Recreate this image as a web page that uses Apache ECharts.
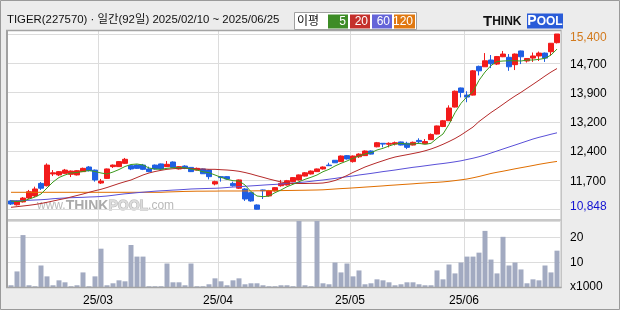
<!DOCTYPE html>
<html><head><meta charset="utf-8">
<script src="https://cdn.jsdelivr.net/npm/echarts@6/dist/echarts.min.js"></script>
<style>html,body{margin:0;padding:0;background:#ececec;}#c{width:620px;height:310px;}</style>
</head><body><div id="c"></div>
<script>
// ---- trading days (categories) ----
const FEB_DAYS=[10,11,12,13,14,17,18,19,20,21,24,25,26,27,28];
const MAR_DAYS=[4,5,6,7,10,11,12,13,14,17,18,19,20,21,24,25,26,27,28,31];
const APR_DAYS=[1,2,3,4,7,8,9,10,11,14,15,16,17,18,21,22,23,24,25,28,29,30];
const MAY_DAYS=[2,7,8,9,12,13,14,15,16,19,20,21,22,23,26,27,28,29,30];
const JUN_DAYS=[2,4,5,9,10,11,12,13,16,17,18,19,20,23,24,25];
const pad=n=>(n<10?'0':'')+n;
const DATES=[].concat(
  FEB_DAYS.map(d=>'2025-02-'+pad(d)),MAR_DAYS.map(d=>'2025-03-'+pad(d)),
  APR_DAYS.map(d=>'2025-04-'+pad(d)),MAY_DAYS.map(d=>'2025-05-'+pad(d)),
  JUN_DAYS.map(d=>'2025-06-'+pad(d)));

// ---- prices ----
const OPEN=[11070,10970,11045,11145,11200,11525,11465,11770,11745,11785,
11760,11745,11830,11950,11870,11535,11655,11960,11960,12045,
11985,12000,12000,11900,12000,12030,11960,12080,11900,11975,
11940,11870,11900,11870,11510,11700,11700,11525,11400,11380,
11285,10965,11355,11200,11330,11465,11485,11570,11615,11715,
11770,11830,11900,12000,12125,12090,12245,12090,12215,12245,
12365,12475,12565,12540,12545,12600,12565,12520,12640,12555,
12660,12805,13000,13150,13505,14000,13815,13815,14560,14550,
14725,14620,14810,14795,14605,14960,14700,14775,14830,14905,
14940,15175];
const CLOSE=[10990,11060,11145,11310,11380,11400,12000,11800,11830,11870,
11845,11855,11915,11855,11615,11585,11900,12000,12090,12150,
11900,11915,11890,11830,11900,11900,12020,11940,11960,11915,
11830,11915,11775,11700,11570,11675,11640,11465,11615,11120,
11070,10855,11335,11335,11415,11525,11595,11675,11745,11800,
11845,11900,11950,11985,12060,12235,12160,12235,12285,12365,
12285,12580,12545,12565,12580,12520,12460,12590,12605,12610,
12795,13015,13150,13480,13915,13885,13765,14445,14445,14705,
14630,14815,14880,14550,14880,14810,14765,14830,14905,14775,
15160,15400];
const LOW=[10965,10950,11030,11120,11170,11355,11445,11715,11715,11770,
11690,11730,11820,11835,11570,11510,11640,11925,11950,12030,
11870,11900,11870,11815,11885,11885,11950,11925,11885,11895,
11820,11860,11770,11630,11475,11570,11625,11440,11380,11070,
11050,10848,11120,11185,11315,11440,11470,11555,11600,11705,
11755,11820,11885,11975,12055,12080,12145,12065,12185,12235,
12275,12460,12460,12460,12510,12510,12415,12510,12565,12545,
12650,12795,12985,13145,13495,13755,13630,13805,14325,14545,
14515,14595,14800,14445,14465,14620,14660,14675,14700,14675,
14840,15155];
const HIGH=[11095,11080,11170,11355,11440,11560,12045,11870,11845,11900,
11860,11870,11935,11975,11885,11640,11910,12015,12105,12185,
12000,12015,12030,11960,12015,12040,12105,12095,11975,11995,
11950,11935,11910,11885,11595,11710,11715,11570,11625,11400,
11300,10980,11365,11355,11430,11615,11615,11690,11755,11820,
11860,11910,11965,12060,12130,12250,12260,12250,12305,12380,
12380,12600,12570,12590,12610,12610,12605,12610,12695,12675,
12820,13025,13170,13550,13935,14010,13915,14465,14580,14905,
14855,14830,14960,14880,14895,14970,14775,14920,14945,14920,
15165,15400];
// ---- moving averages ----
const MA5=[11068,11055,11068,11120,11172,11250,11406,11561,11678,11743,
11795,11808,11833,11859,11833,11795,11769,11820,11885,11963,
12015,12028,12002,11924,11898,11890,11916,11932,11932,11932,
11898,11872,11828,11802,11743,11683,11631,11595,11587,11483,
11310,11198,11180,11198,11284,11354,11439,11501,11569,11631,
11683,11743,11828,11890,11976,12046,12106,12176,12235,12287,
12321,12391,12435,12495,12546,12564,12546,12546,12564,12539,
12564,12694,12806,13057,13358,13602,13773,13903,14198,14413,
14582,14686,14699,14706,14706,14699,14725,14725,14743,14769,
14854,15010];
const MA20=[10905,10921,10939,10957,10978,11004,11035,11068,11102,11133,
11172,11211,11250,11294,11335,11372,11418,11470,11522,11569,
11613,11678,11743,11795,11833,11864,11890,11906,11916,11916,
11911,11898,11898,11890,11890,11880,11872,11859,11839,11807,
11769,11724,11683,11639,11600,11561,11535,11522,11522,11522,
11527,11527,11535,11560,11600,11660,11730,11810,11880,11950,
12007,12062,12113,12165,12209,12240,12269,12300,12331,12370,
12417,12474,12539,12611,12689,12780,12884,12987,13130,13247,
13363,13467,13576,13687,13791,13887,13991,14095,14201,14310,
14413,14504];
const MA60=[11076,11076,11081,11087,11094,11102,11112,11128,11138,11146,
11154,11159,11164,11172,11177,11185,11198,11216,11237,11255,
11268,11284,11297,11310,11323,11333,11341,11351,11359,11369,
11380,11385,11390,11395,11398,11406,11418,11431,11439,11450,
11460,11470,11481,11491,11499,11509,11522,11535,11548,11561,
11579,11597,11613,11634,11654,11678,11698,11717,11743,11763,
11784,11807,11831,11851,11872,11896,11919,11942,11960,11981,
12002,12023,12041,12062,12085,12111,12145,12178,12217,12261,
12313,12365,12417,12469,12520,12572,12624,12676,12720,12759,
12800,12837];
const MA120=[11294,11294,11294,11294,11294,11294,11294,11294,11294,11294,
11294,11294,11294,11294,11294,11294,11294,11294,11294,11294,
11294,11294,11294,11294,11294,11294,11302,11307,11312,11317,
11320,11323,11323,11325,11325,11328,11328,11328,11328,11330,
11330,11333,11333,11335,11335,11338,11341,11343,11346,11348,
11351,11354,11359,11369,11380,11390,11398,11408,11418,11429,
11439,11450,11460,11473,11483,11494,11504,11514,11527,11535,
11546,11553,11564,11579,11597,11618,11639,11670,11704,11743,
11782,11813,11841,11872,11903,11932,11960,11989,12020,12046,
12072,12095];
// ---- volume (x1000) ----
const VOLUME=[0.7,6.3,21,0.7,0.3,8.7,4.3,0.7,2.7,1.9,
0.3,0.7,5.9,0.3,4.3,15.5,0.7,1.5,2.7,2.3,
17,12.3,12.3,0.3,0.3,0.3,9.5,1.9,1.9,0.7,
9.5,0.3,0.3,1.1,3.5,2.3,0.7,2.7,3.5,1.1,
1.5,1.5,0.7,0.3,0.3,0.7,0.7,0.3,31,0.7,
0.3,30,1.5,1.1,9.9,5.9,9.5,4.3,6.7,1.1,
1.5,3.1,2.7,1.9,0.7,1.1,1.9,1.9,1.1,0.7,
0.7,6.7,3.1,9.1,5.5,9.9,12.3,12.3,13.9,22.7,
11.1,5.5,20.3,8.7,9.9,7.1,1.5,3.1,2.7,8.7,
5.9,14.7];
// ---- tick labels ----
const PRICE_TICKS=['10,848','11,700','12,400','13,200','13,900','14,700','15,400'];
const PRICE_EXTREMES=[10848,15400];
const VOL_TICKS=['x1000','10','20'];
const MONTH_TICKS=['25/03','25/04','25/05','25/06'];

// ---- layout ----
const L=8, W=552;
const P_TOP=31, P_BOT=219, G_TOP=34, G_BOT=209.5;
const V_TOP=221, V_BOT=287, V_MAX=26.7;
const perPx=(PRICE_EXTREMES[1]-PRICE_EXTREMES[0])/(G_BOT-G_TOP);
const pMin=PRICE_EXTREMES[0]-(P_BOT-G_BOT)*perPx;
const pMax=PRICE_EXTREMES[1]+(G_TOP-P_TOP)*perPx;
const monthStart=[];
DATES.forEach((d,i)=>{ if(i>0 && d.slice(5,7)!==DATES[i-1].slice(5,7)) monthStart.push(i); });
const isMS=i=>monthStart.indexOf(i)>=0;
const FONT="'Liberation Sans','Noto Sans CJK KR',sans-serif";
const GC='#dcdcdc';
const UP='#f21b1b', DOWN='#1f5fe3';

const chart=echarts.init(document.getElementById('c'));
const splitX={show:true,interval:(i)=>isMS(i),lineStyle:{color:GC,width:1}};
chart.setOption({
  animation:false,
  grid:[
    {left:L,top:P_TOP,width:W,height:P_BOT-P_TOP},
    {left:L,top:V_TOP,width:W,height:V_BOT-V_TOP},
    {left:L,top:G_TOP,width:W,height:G_BOT-G_TOP}
  ],
  xAxis:[
    {type:'category',gridIndex:0,data:DATES,boundaryGap:true,axisLine:{show:false},axisTick:{show:false},axisLabel:{show:false},splitLine:splitX},
    {type:'category',gridIndex:1,data:DATES,boundaryGap:true,axisLine:{show:false},axisTick:{show:false},
      axisLabel:{show:true,interval:(i)=>isMS(i),formatter:(v,i)=>MONTH_TICKS[monthStart.indexOf(i)]||'',
        color:'#000',fontSize:12,fontFamily:FONT,margin:8,padding:[0,6,0,0]},splitLine:splitX},
    {type:'category',gridIndex:2,data:DATES,show:false}
  ],
  yAxis:[
    {type:'value',gridIndex:0,min:pMin,max:pMax,show:false,splitLine:{show:false}},
    {type:'value',gridIndex:1,min:0,max:V_MAX,interval:10,position:'right',
      axisLine:{show:false},axisTick:{show:false},
      axisLabel:{showMaxLabel:false,formatter:(v)=>VOL_TICKS[Math.round(v/10)]||'',color:'#000',fontSize:12,fontFamily:FONT,margin:10},
      splitLine:{show:true,lineStyle:{color:GC,width:1}}},
    {type:'value',gridIndex:2,min:0,max:6,interval:1,position:'right',
      axisLine:{show:false},axisTick:{show:false},
      axisLabel:{formatter:(v)=>{const k=Math.round(v);const s=PRICE_TICKS[k];return k===0?'{lo|'+s+'}':(k===6?'{hi|'+s+'}':'{n|'+s+'}');},
        fontSize:12,fontFamily:FONT,margin:10,
        rich:{
          n:{fontSize:12,fontFamily:FONT,color:'#000',padding:[2,0,0,0]},
          hi:{fontSize:12,fontFamily:FONT,color:'#d27a1e',padding:[8,0,0,0]},
          lo:{fontSize:12,fontFamily:FONT,color:'#1414d2',padding:[0,0,5,0]}
        }},
      splitLine:{show:true,lineStyle:{color:GC,width:1}}}
  ],
  series:[
    {type:'candlestick',xAxisIndex:0,yAxisIndex:0,barWidth:5,
      data:DATES.map((d,i)=>[OPEN[i],CLOSE[i],LOW[i],HIGH[i]]),
      itemStyle:{color:UP,color0:DOWN,borderColor:UP,borderColor0:DOWN,borderWidth:1}},
    {type:'line',name:'MA120',xAxisIndex:0,yAxisIndex:0,data:MA120,symbol:'none',lineStyle:{color:'#e06e00',width:1}},
    {type:'line',name:'MA60',xAxisIndex:0,yAxisIndex:0,data:MA60,symbol:'none',lineStyle:{color:'#5a50d8',width:1}},
    {type:'line',name:'MA20',xAxisIndex:0,yAxisIndex:0,data:MA20,symbol:'none',lineStyle:{color:'#b52a2a',width:1}},
    {type:'line',name:'MA5',xAxisIndex:0,yAxisIndex:0,data:MA5,symbol:'none',lineStyle:{color:'#3c9a1e',width:1}},
    {type:'bar',xAxisIndex:1,yAxisIndex:1,data:VOLUME,barWidth:5,itemStyle:{color:'#a2aac1'}}
  ],
  graphic:[
    {type:'rect',z:-100,silent:true,shape:{x:0.5,y:0.5,width:619,height:309},style:{fill:'#ececec',stroke:'#9a9a9a',lineWidth:1}},
    {type:'rect',z:-90,silent:true,shape:{x:L,y:P_TOP,width:W+1,height:V_BOT-P_TOP},style:{fill:'#fff'}},
    {type:'text',z:-80,silent:true,x:37,y:206,style:{
      text:'{a|www.}{b|THINK}{c|POOL}{a|.com}',verticalAlign:'middle',
      rich:{a:{fontSize:12,fontFamily:FONT,fill:'#b9b9b9'},
            b:{fontSize:14,fontWeight:'bold',fontFamily:FONT,fill:'#aaaaaa'},
            c:{fontSize:14,fontWeight:'bold',fontFamily:FONT,fill:'#dcdcdc',stroke:'#b4b4b4',lineWidth:1}}}},
    {type:'line',z:50,silent:true,shape:{x1:L,y1:220,x2:L+W+1,y2:220},style:{stroke:'#c8c8c8',lineWidth:2}},
    {type:'line',z:50,silent:true,shape:{x1:7,y1:30,x2:7,y2:288},style:{stroke:'#a0a0a0',lineWidth:2}},
    {type:'line',z:50,silent:true,shape:{x1:6,y1:30.5,x2:561.5,y2:30.5},style:{stroke:'#a4a4a4',lineWidth:1.5}},
    {type:'line',z:50,silent:true,shape:{x1:561.5,y1:30,x2:561.5,y2:288},style:{stroke:'#c4c4c4',lineWidth:1}},
    {type:'line',z:50,silent:true,shape:{x1:6,y1:287.5,x2:561.5,y2:287.5},style:{stroke:'#a4a4a4',lineWidth:1.5}},
    {type:'text',x:7,y:20,style:{text:'TIGER(227570) · 일간(92일) 2025/02/10 ~ 2025/06/25',fontSize:11.4,fontFamily:FONT,fill:'#111',verticalAlign:'middle'}},
    {type:'rect',shape:{x:294.5,y:12.5,width:122,height:17},style:{fill:'#fff',stroke:'#a0a0a0',lineWidth:1}},
    {type:'text',x:297,y:21.5,style:{text:'이평',fontSize:12,fontFamily:FONT,fill:'#111',verticalAlign:'middle'}},
    {type:'rect',shape:{x:328,y:14.5,width:20,height:14},style:{fill:'#3d8c26'}},
    {type:'rect',shape:{x:350,y:14.5,width:20,height:14},style:{fill:'#c4302b'}},
    {type:'rect',shape:{x:372,y:14.5,width:20,height:14},style:{fill:'#6464d8'}},
    {type:'rect',shape:{x:394,y:14.5,width:21,height:14},style:{fill:'#e07810'}},
    {type:'text',x:346,y:21.5,style:{text:'5',fontSize:12,fontFamily:FONT,fill:'#fff',align:'right',verticalAlign:'middle'}},
    {type:'text',x:368,y:21.5,style:{text:'20',fontSize:12,fontFamily:FONT,fill:'#fff',align:'right',verticalAlign:'middle'}},
    {type:'text',x:390,y:21.5,style:{text:'60',fontSize:12,fontFamily:FONT,fill:'#fff',align:'right',verticalAlign:'middle'}},
    {type:'text',x:413,y:21.5,style:{text:'120',fontSize:12,fontFamily:FONT,fill:'#fff',align:'right',verticalAlign:'middle'}},
    {type:'text',x:483,y:21.5,style:{text:'{t|T}{h|HINK}',verticalAlign:'middle',
      rich:{t:{fontSize:15,fontWeight:'bold',fontFamily:FONT,fill:'#111'},h:{fontSize:12,fontWeight:'bold',fontFamily:FONT,fill:'#111'}}}},
    {type:'rect',shape:{x:527,y:13.5,width:36,height:15},style:{fill:'#2a5cd8'}},
    {type:'text',x:545,y:21.5,style:{text:'{p|P}{o|OOL}',align:'center',verticalAlign:'middle',
      rich:{p:{fontSize:14,fontWeight:'bold',fontFamily:FONT,fill:'#fff'},o:{fontSize:12,fontWeight:'bold',fontFamily:FONT,fill:'#fff'}}}}
  ]
});
</script></body></html>
